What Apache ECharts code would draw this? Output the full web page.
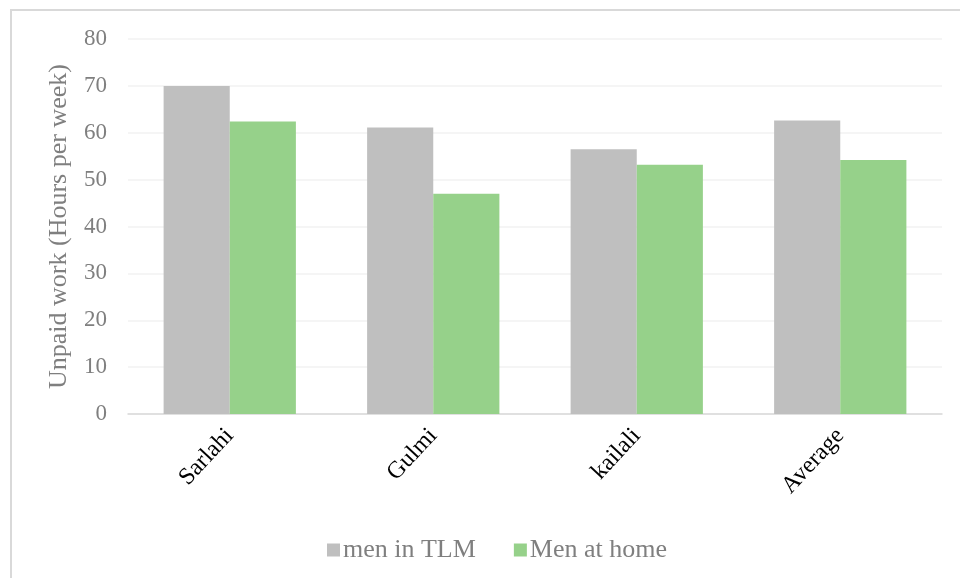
<!DOCTYPE html>
<html>
<head>
<meta charset="utf-8">
<script src="https://cdn.jsdelivr.net/npm/echarts@6/dist/echarts.min.js"></script>
<style>
html,body{margin:0;padding:0;background:#fff;}
#chart{width:960px;height:578px;}
</style>
</head>
<body>
<div id="chart"></div>
<script>
const categories = ["Sarlahi", "Gulmi", "kailali", "Average"];
const menInTLM = [70.0, 61.1, 56.5, 62.6];
const menAtHome = [62.4, 47.0, 53.2, 54.2];
const seriesNames = ["men in TLM", "Men at home"];
const yAxisTitle = "Unpaid work (Hours per week)";

const serif = "'Liberation Serif', 'DejaVu Serif', serif";
const chart = echarts.init(document.getElementById('chart'));
chart.setOption({
  backgroundColor: '#ffffff',
  animation: false,
  graphic: [{
    type: 'rect',
    shape: { x: 11, y: 10, width: 960, height: 580 },
    style: { fill: 'none', stroke: '#d9d9d9', lineWidth: 2 },
    silent: true
  }],
  grid: { left: 128, right: 18, top: 39, bottom: 164, containLabel: false },
  legend: {
    data: seriesNames,
    left: 322, top: 532,
    icon: 'rect', itemWidth: 13, itemHeight: 13, itemGap: 38,
    textStyle: { fontFamily: serif, fontSize: 26, color: '#7f7f7f', padding: [0, 0, 0, -2] }
  },
  xAxis: {
    type: 'category',
    data: categories,
    axisLine: { lineStyle: { color: '#d9d9d9', width: 1.5 } },
    axisTick: { show: false },
    axisLabel: { rotate: 47, margin: 18, fontFamily: serif, fontSize: 24, color: '#000000' }
  },
  yAxis: {
    type: 'value', min: 0, max: 80, interval: 10,
    name: yAxisTitle, nameLocation: 'middle', nameGap: 56, nameRotate: 90,
    nameTextStyle: { fontFamily: serif, fontSize: 26, color: '#7f7f7f' },
    axisLine: { show: false }, axisTick: { show: false },
    axisLabel: { margin: 21, fontFamily: serif, fontSize: 23, color: '#7f7f7f' },
    splitLine: { lineStyle: { color: '#f2f2f2', width: 1.5 } }
  },
  series: [
    { name: seriesNames[0], type: 'bar', data: menInTLM, barGap: '0%', barCategoryGap: '35%',
      itemStyle: { color: '#bfbfbf' } },
    { name: seriesNames[1], type: 'bar', data: menAtHome, barGap: '0%', barCategoryGap: '35%',
      itemStyle: { color: '#96d18a' } }
  ]
});
</script>
</body>
</html>
